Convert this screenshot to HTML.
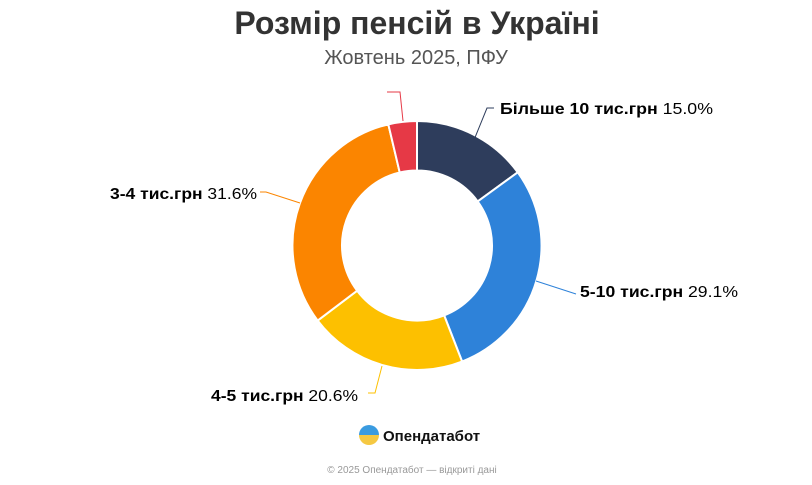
<!DOCTYPE html>
<html><head><meta charset="utf-8"><style>
body{margin:0;width:812px;height:485px;background:#fff;font-family:"Liberation Sans",sans-serif;overflow:hidden;position:relative}
.t{position:absolute;left:0;width:812px;text-align:center}
</style></head><body>
<div class="t" style="top:5px;left:11px;font-size:32px;font-weight:bold;color:#333">Розмір пенсій в Україні</div>
<div class="t" style="top:47px;left:10px;font-size:20px;color:#555">Жовтень 2025, ПФУ</div>
<svg width="812" height="485" style="position:absolute;left:0;top:0" id="s">
<g id="g"></g>
<g fill="none" stroke-width="1">
<polyline points="474,140 487,108 494,108" stroke="#2e3d5c"/>
<polyline points="536,281 576,294" stroke="#2e82d9"/>
<polyline points="382,366 375,393 368,393" stroke="#fdc000"/>
<polyline points="300,203 266,192 260,192" stroke="#fb8500"/>
<polyline points="403,121 400,92 387,92" stroke="#e63946"/>
</g>
<g font-size="16" fill="#000">
<text x="500" y="114" textLength="213" lengthAdjust="spacingAndGlyphs"><tspan font-weight="bold">Більше 10 тис.грн</tspan> 15.0%</text>
<text x="580" y="297" textLength="158" lengthAdjust="spacingAndGlyphs"><tspan font-weight="bold">5-10 тис.грн</tspan> 29.1%</text>
<text x="211" y="401" textLength="147" lengthAdjust="spacingAndGlyphs"><tspan font-weight="bold">4-5 тис.грн</tspan> 20.6%</text>
<text x="110" y="199" textLength="147" lengthAdjust="spacingAndGlyphs"><tspan font-weight="bold">3-4 тис.грн</tspan> 31.6%</text>
</g>
<defs><linearGradient id="lg" x1="0" y1="0" x2="0" y2="1"><stop offset="0.5" stop-color="#3a9be0"/><stop offset="0.5" stop-color="#f5c842"/></linearGradient></defs>
<circle cx="369" cy="435" r="10" fill="url(#lg)"/>
<text x="383" y="441" font-size="15" font-weight="bold" fill="#111">Опендатабот</text>
<text x="412" y="473" font-size="10" fill="#999" text-anchor="middle">© 2025 Опендатабот — відкриті дані</text>
</svg>
<script>
var cx=417,cy=245.5,R=124.5,r=75;
var d=[[15.0,"#2e3d5c"],[29.1,"#2e82d9"],[20.6,"#fdc000"],[31.6,"#fb8500"],[3.7,"#e63946"]];
var a=0,h="";
function p(rad,ang){ang=(ang-90)*Math.PI/180;return (cx+rad*Math.cos(ang)).toFixed(2)+","+(cy+rad*Math.sin(ang)).toFixed(2);}
d.forEach(function(x){var b=a+x[0]*3.6,l=(b-a)>180?1:0;
h+='<path d="M'+p(R,a)+' A'+R+','+R+' 0 '+l+' 1 '+p(R,b)+' L'+p(r,b)+' A'+r+','+r+' 0 '+l+' 0 '+p(r,a)+' Z" fill="'+x[1]+'" stroke="#fff" stroke-width="2" stroke-linejoin="round"/>';a=b;});
document.getElementById("g").innerHTML=h;
</script>
</body></html>
